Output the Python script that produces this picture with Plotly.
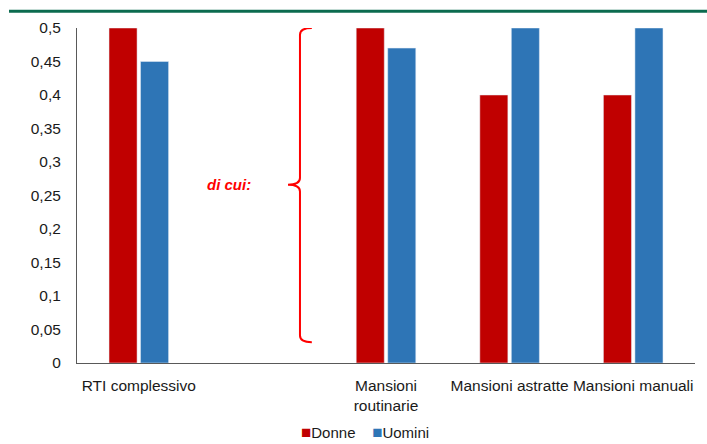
import plotly.graph_objects as go

# Categories (slot 1 is an empty spacer between the overall index and its components)
categories = ["RTI complessivo", "", "Mansioni<br>routinarie", "Mansioni astratte", "Mansioni manuali"]
donne = [0.5, None, 0.5, 0.4, 0.4]
uomini = [0.45, None, 0.47, 0.5, 0.5]
y_ticks = [0, 0.05, 0.1, 0.15, 0.2, 0.25, 0.3, 0.35, 0.4, 0.45, 0.5]
y_tick_labels = ["0", "0,05", "0,1", "0,15", "0,2", "0,25", "0,3", "0,35", "0,4", "0,45", "0,5"]

RED = "#c00000"
BLUE = "#2e75b6"
positions = list(range(len(categories)))
FONT = "Liberation Sans, Arial, sans-serif"

fig = go.Figure()
fig.add_trace(go.Bar(x=positions, y=donne, name="Donne", marker_color=RED, showlegend=False))
fig.add_trace(go.Bar(x=positions, y=uomini, name="Uomini", marker_color=BLUE, showlegend=False))

# Brace grouping the three components, with its label
x_line, x_right, x_tip = 1.304, 1.40, 1.207
y_top, y_mid, y_bot = 0.5, 0.266, 0.031
brace = (
    f"M {x_right},{y_top} Q {x_line},{y_top} {x_line},{y_top - 0.01} "
    f"L {x_line},{y_mid + 0.01} Q {x_line},{y_mid} {x_tip},{y_mid} "
    f"Q {x_line},{y_mid} {x_line},{y_mid - 0.01} "
    f"L {x_line},{y_bot + 0.01} Q {x_line},{y_bot} {x_right},{y_bot}"
)
fig.add_shape(type="path", path=brace, xref="x", yref="y",
              line=dict(color="#ff0000", width=2))
fig.add_annotation(x=0.73, y=y_mid, xref="x", yref="y", text="<b><i>di cui:</i></b>",
                   showarrow=False, font=dict(family=FONT, size=15, color="#ff0000"))

# Legend row below the axis: coloured square followed by the series name
def legend_item(color, label):
    return f"<span style='color:{color};font-size:17px'>■</span>{label}"

legend_text = legend_item(RED, "Donne") + "&nbsp;&nbsp;&nbsp;&nbsp;" + legend_item(BLUE, "Uomini")
fig.add_annotation(x=0.466, y=-0.207, xref="paper", yref="paper", text=legend_text,
                   showarrow=False, xanchor="center", yanchor="middle",
                   font=dict(family=FONT, size=15, color="#1a1a1a"))

# Green rule across the top of the page
fig.add_shape(type="line", xref="paper", yref="paper", x0=-0.11, x1=1.02, y0=1.05, y1=1.05,
              line=dict(color="#0b6b4f", width=3))

fig.update_layout(
    width=707, height=444,
    margin=dict(l=77, r=12, t=28, b=81, autoexpand=False),
    paper_bgcolor="white", plot_bgcolor="white",
    barmode="group", bargap=0.49, bargroupgap=0.11,
    font=dict(family=FONT, size=15.5, color="#1a1a1a"),
    showlegend=False,
)

fig.update_xaxes(range=[-0.5, 4.5], tickvals=positions, ticktext=categories,
                 showline=True, linecolor="#595959", linewidth=1, showgrid=False,
                 ticks="", zeroline=False, tickangle=0, ticklabelstandoff=8, fixedrange=True)
fig.update_yaxes(range=[0, 0.5], tickvals=y_ticks, ticktext=y_tick_labels,
                 showline=True, linecolor="#595959", linewidth=1, showgrid=False,
                 ticks="", zeroline=False, ticklabelstandoff=12, fixedrange=True)

fig.write_html("out.html")
